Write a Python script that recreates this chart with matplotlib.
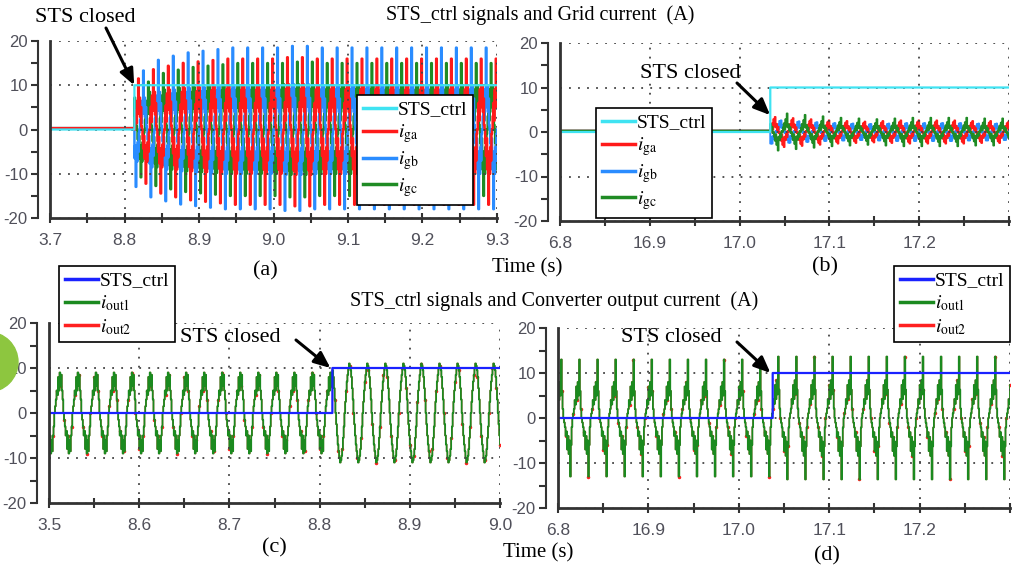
import matplotlib
matplotlib.use('Agg')
import matplotlib.pyplot as plt
from matplotlib.lines import Line2D
from matplotlib.patches import Ellipse
import numpy as np

W, H = 1013, 569
plt.rcParams['mathtext.fontset'] = 'stix'
serif = ['Liberation Serif', 'DejaVu Serif']
tickfont = ['Liberation Sans Narrow', 'Liberation Sans', 'DejaVu Sans']

period = 0.02          # 50 Hz
sps = 24               # scope samples per period
dt = period / sps
sts_off, sts_on = 0, 10

# ---- (a) grid currents, 8.7 - 9.3 s
a_window = (8.7, 9.3)
a_ticks = [8.7, 8.8, 8.9, 9.0, 9.1, 9.2, 9.3]
a_labels = ['3.7', '8.8', '8.9', '9.0', '9.1', '9.2', '9.3']
a_close = 8.813
a_idle = 0.3
ga_a = [0, 3, 6, 2, 9, 5, 16, 8, 10, 4, 7, 1, 0, -3, -6, -2, -9, -5, -17, -8, -10, -4, -7, -1]
gb_a = [-9, -5, -18, -8, -10, -4, -7, -1, 0, 3, 6, 2, 9, 5, 18.5, 8, 10, 4, 7, 1, 0, -3, -6, -2]
gc_a = [10, 4, 7, 1, 0, -3, -6, -2, -9, -5, -15, -8, -10, -4, -7, -1, 0, 3, 6, 2, 9, 5, 15, 8]
a_env = [0.72, 0.85, 0.9, 0.94, 0.96, 0.98, 1.0, 1.0, 1.0, 1.0, 1.02, 1.02, 1.0,
         1.0, 1.0, 1.0, 1.0, 1.0, 1.0, 1.0, 1.0, 1.0, 1.0, 1.0, 1.0]

# ---- (b) grid currents, 16.8 - 17.3 s
b_window = (16.8, 17.3)
b_ticks = [16.8, 16.9, 17.0, 17.1, 17.2, 17.3]
b_labels = ['6.8', '16.9', '17.0', '17.1', '17.2', '']
b_close = 17.034
b_idle = 0.3
ga_b = [0, 0.8, 1.5, 0.4, 2.2, 1.0, 2.6, 0.8, 1.4, 0.3, 0.9, -0.2, 0, -0.8, -1.5, -0.4,
        -2.2, -1.0, -2.6, -0.8, -1.4, -0.3, -0.9, 0.2]
gb_b = [-2.0, -0.9, -2.0, -0.7, -1.2, -0.3, -0.8, 0.2, 0, 0.7, 1.3, 0.4, 1.9, 0.9, 2.0, 0.7,
        1.2, 0.3, 0.8, -0.2, 0, -0.7, -1.3, -0.4]
gc_b = [1.4, 0.3, 0.9, -0.2, 0, -0.8, -1.5, -0.4, -2.2, -1.0, -3.2, -0.8, -1.4, -0.3, -0.9, 0.2,
        0, 0.8, 1.5, 0.4, 2.2, 1.0, 3.2, 0.8]
b_env = [1.3, 1.2, 1.1, 1.0, 0.95, 0.9, 0.95, 1.0, 1.0, 1.0, 1.0, 0.95, 0.95, 0.9]

# ---- (c) converter output current, 8.5 - 9.0 s
c_window = (8.5, 9.0)
c_ticks = [8.5, 8.6, 8.7, 8.8, 8.9, 9.0]
c_labels = ['3.5', '8.6', '8.7', '8.8', '8.9', '9.0']
c_close = 8.814
c_zero_pre, c_zero_post = 8.5052, 8.827
out_pre_c = [0, 1.5, 3, 5, 4, 8, 5, 9, 6, 8.5, 5, 3, 0, -1.5, -3, -5, -4, -8, -5, -9, -6, -8.5, -5, -3]
out_post_c = [0, 2.5, 5, 7, 8.5, 10, 11, 10.5, 9.5, 8, 5.5, 3, 0, -2.5, -5, -7, -8.5, -10, -11,
              -10.5, -9.5, -8, -5.5, -3]

# ---- (d) converter output current, 16.8 - 17.3 s
d_window = (16.8, 17.3)
d_ticks = [16.8, 16.9, 17.0, 17.1, 17.2, 17.3]
d_labels = ['6.8', '16.9', '17.0', '17.1', '17.2', '']
d_close = 17.037
d_zero = 16.7955
out_d = [0, 1, 2, 4, 3, 7, 4, 8, 5, 13, 6, 2, 0, -1, -2, -4, -3, -7, -4, -8, -5, -13, -6, -2]
d_scale_pre, d_scale_post = 1.0, 1.05

c_sts = '#3fe3f2'
c_ga, c_gb, c_gc = '#ff1a1a', '#2a8cff', '#1f8b24'
c_sts2, c_out1, c_out2 = '#1a22ff', '#1b8a1f', '#ff2020'
tick_col = '#50505a'
ax_col = '#333333'


def fx(x):
    return x / W


def fy(y):
    return 1 - y / H


def times(window):
    n = int(round((window[1] - window[0]) / dt)) + 1
    return window[0] + np.arange(n) * dt


def trace(t, shape, zero):
    k = np.floor((t - zero) / dt + 1e-6).astype(int) % sps
    return np.asarray(shape, dtype=float)[k]


def envelope(t, close, env):
    cyc = np.floor((t - close) / period).astype(int)
    return np.asarray(env)[np.clip(cyc, 0, len(env) - 1)]


def setup(ax, window, ticks, labels):
    ax.set_xlim(*window)
    ax.set_ylim(-20, 20)
    for s in ['top', 'right']:
        ax.spines[s].set_visible(False)
    ax.spines['left'].set_position(('outward', 9))
    ax.spines['left'].set_color(ax_col)
    ax.spines['left'].set_linewidth(1.5)
    ax.spines['bottom'].set_color(ax_col)
    ax.spines['bottom'].set_linewidth(2)
    ax.set_xticks(ticks)
    ax.set_xticklabels(labels)
    ax.set_xticks([v + 0.05 for v in ticks[:-1]], minor=True)
    ax.set_yticks([-20, -10, 0, 10, 20])
    ax.set_yticklabels(['-20', '-10', '0', '10', '20'])
    ax.set_yticks([-15, -5, 5, 15], minor=True)
    ax.tick_params(axis='x', which='both', direction='inout', length=7, width=1.5,
                   color=ax_col, pad=7, labelsize=12.5, labelcolor=tick_col)
    ax.tick_params(axis='y', which='both', direction='out', length=5, width=1.5,
                   color=ax_col, pad=2, labelsize=12, labelcolor=tick_col)
    for lab in ax.get_xticklabels() + ax.get_yticklabels():
        lab.set_family(tickfont)
    ax.set_axisbelow(False)
    ax.grid(True, which='major', linestyle=(0, (1, 4)), color='#444444', linewidth=1.3)
    ax.axvline(window[0], color=ax_col, lw=2, clip_on=False, zorder=4)


def legend(ax, handles, x, y):
    leg = ax.legend(handles=handles, loc='upper left', bbox_to_anchor=(fx(x), fy(y)),
                    bbox_transform=fig.transFigure, fancybox=False, edgecolor='k',
                    framealpha=1, borderpad=0.3, labelspacing=0.2, handlelength=1.7,
                    handletextpad=0.1, borderaxespad=0,
                    prop={'family': serif, 'size': 14})
    leg.get_frame().set_linewidth(1.2)
    leg.set_zorder(10)


def arrow(ax, tip, tail):
    ax.annotate('', xy=tip, xycoords='data', xytext=(fx(tail[0]), fy(tail[1])),
                textcoords='figure fraction', annotation_clip=False,
                arrowprops=dict(arrowstyle='-|>,head_length=0.7,head_width=0.3', color='k',
                                lw=2.2, mutation_scale=14, shrinkA=0, shrinkB=0))


fig = plt.figure(figsize=(W / 100, H / 100), dpi=100)
fig.patch.set_facecolor('white')

# axes placed from pixel positions of the data area
ax_a = fig.add_axes([fx(50), fy(218), (497 - 50) / W, (218 - 41) / H])
ax_b = fig.add_axes([fx(560), fy(221), (1009 - 560) / W, (221 - 43) / H])
ax_c = fig.add_axes([fx(49), fy(503), (500 - 49) / W, (503 - 323) / H])
ax_d = fig.add_axes([fx(558), fy(508), (1010 - 558) / W, (508 - 328) / H])

# ---------- (a)
t = times(a_window)
on = t >= a_close
env = envelope(t, a_close, a_env)
for shape, col in [(gc_a, c_gc), (gb_a, c_gb), (ga_a, c_ga)]:
    y = np.where(on, trace(t, shape, a_close) * env, a_idle)
    ax_a.plot(t, y, color=col, lw=1.8, drawstyle='steps-post', zorder=2)
ax_a.plot(t, np.where(on, sts_on, sts_off), color=c_sts, lw=1.6, drawstyle='steps-post', zorder=3)
setup(ax_a, a_window, a_ticks, a_labels)
legend(ax_a, [Line2D([], [], color=c_sts, lw=2.5, label='STS_ctrl'),
              Line2D([], [], color=c_ga, lw=2.5, label=r'$i_{\mathrm{ga}}$'),
              Line2D([], [], color=c_gb, lw=2.5, label=r'$i_{\mathrm{gb}}$'),
              Line2D([], [], color=c_gc, lw=2.5, label=r'$i_{\mathrm{gc}}$')], 357, 95)
arrow(ax_a, (a_close, sts_on), (106, 28))

# ---------- (b)
t = times(b_window)
on = t >= b_close
env = envelope(t, b_close, b_env)
for shape, col in [(gb_b, c_gb), (ga_b, c_ga), (gc_b, c_gc)]:
    y = np.where(on, trace(t, shape, b_close) * env, b_idle)
    ax_b.plot(t, y, color=col, lw=1.4, drawstyle='steps-post', zorder=2)
ax_b.plot(t, np.where(on, sts_on, sts_off), color=c_sts, lw=1.6, drawstyle='steps-post', zorder=3)
setup(ax_b, b_window, b_ticks, b_labels)
legend(ax_b, [Line2D([], [], color=c_sts, lw=2.5, label='STS_ctrl'),
              Line2D([], [], color=c_ga, lw=2.5, label=r'$i_{\mathrm{ga}}$'),
              Line2D([], [], color=c_gb, lw=2.5, label=r'$i_{\mathrm{gb}}$'),
              Line2D([], [], color=c_gc, lw=2.5, label=r'$i_{\mathrm{gc}}$')], 596, 108)
arrow(ax_b, (b_close, 3.8), (737, 83))

# ---------- (c)
t = times(c_window)
on = t >= c_close
out1 = np.where(on, trace(t, out_post_c, c_zero_post), trace(t, out_pre_c, c_zero_pre))
out2 = out1.copy()
ax_c.plot(t, out2, color=c_out2, lw=1.0, drawstyle='steps-post', marker='.', ms=3,
          markevery=5, zorder=2)
ax_c.plot(t, out1, color=c_out1, lw=1.3, drawstyle='steps-post', zorder=2.1)
ax_c.plot(t, np.where(on, sts_on, sts_off), color=c_sts2, lw=1.6, drawstyle='steps-post', zorder=3)
setup(ax_c, c_window, c_ticks, c_labels)
legend(ax_c, [Line2D([], [], color=c_sts2, lw=2.5, label='STS_ctrl'),
              Line2D([], [], color=c_out1, lw=2.5, label=r'$i_{\mathrm{out1}}$'),
              Line2D([], [], color=c_out2, lw=2.5, label=r'$i_{\mathrm{out2}}$')], 59, 266)
arrow(ax_c, (c_close - 0.002, sts_on), (296, 340))

# ---------- (d)
t = times(d_window)
on = t >= d_close
out1 = trace(t, out_d, d_zero) * np.where(on, d_scale_post, d_scale_pre)
out2 = out1.copy()
ax_d.plot(t, out2, color=c_out2, lw=1.0, drawstyle='steps-post', marker='.', ms=3,
          markevery=5, zorder=2)
ax_d.plot(t, out1, color=c_out1, lw=1.3, drawstyle='steps-post', zorder=2.1)
ax_d.plot(t, np.where(on, sts_on, sts_off), color=c_sts2, lw=1.6, drawstyle='steps-post', zorder=3)
setup(ax_d, d_window, d_ticks, d_labels)
legend(ax_d, [Line2D([], [], color=c_sts2, lw=2.5, label='STS_ctrl'),
              Line2D([], [], color=c_out1, lw=2.5, label=r'$i_{\mathrm{out1}}$'),
              Line2D([], [], color=c_out2, lw=2.5, label=r'$i_{\mathrm{out2}}$')], 894, 266)
arrow(ax_d, (d_close - 0.002, sts_on), (737, 342))

# ---------- texts
txt = dict(family=serif, color='k')
fig.text(fx(35), fy(18), 'STS closed', ha='left', va='center', fontsize=16, **txt)
fig.text(fx(640), fy(74), 'STS closed', ha='left', va='center', fontsize=16, **txt)
fig.text(fx(180), fy(338), 'STS closed', ha='left', va='center', fontsize=16, **txt)
fig.text(fx(621), fy(338), 'STS closed', ha='left', va='center', fontsize=16, **txt)
fig.text(fx(540), fy(15), 'STS_ctrl signals and Grid current  (A)', ha='center', va='center',
         fontsize=14.5, **txt)
fig.text(fx(554), fy(301), 'STS_ctrl signals and Converter output current  (A)', ha='center',
         va='center', fontsize=14.5, **txt)
fig.text(fx(265), fy(271), '(a)', ha='center', va='center', fontsize=16, **txt)
fig.text(fx(825), fy(267), '(b)', ha='center', va='center', fontsize=16, **txt)
fig.text(fx(274), fy(548), '(c)', ha='center', va='center', fontsize=16, **txt)
fig.text(fx(827), fy(556), '(d)', ha='center', va='center', fontsize=16, **txt)
fig.text(fx(527), fy(268), 'Time (s)', ha='center', va='center', fontsize=15, **txt)
fig.text(fx(538), fy(553), 'Time (s)', ha='center', va='center', fontsize=15, **txt)

# green marker cut at the left edge
fig.add_artist(Ellipse((fx(-12), fy(362)), 60 / W, 60 / H, transform=fig.transFigure,
                       color='#8dc63f', clip_on=False, zorder=20))

fig.savefig('out.png', dpi=100, facecolor='white')
